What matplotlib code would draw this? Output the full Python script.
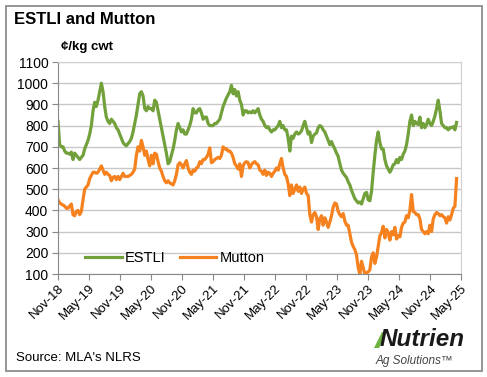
import matplotlib

matplotlib.use("Agg")

import matplotlib.pyplot as plt
import matplotlib.dates as mdates
import pandas as pd
from matplotlib.patches import Polygon, Rectangle

plt.rcParams["font.family"] = ["Liberation Sans", "DejaVu Sans"]

# weekly-ish readings, c/kg cwt, Nov-18 to early Apr-25
estli = [
    820, 710, 700, 700, 680, 670, 670, 665, 675, 640, 670, 660, 650, 640, 650, 660,
    690, 710, 730, 760, 800, 870, 910, 890, 920, 960, 1000, 960, 890, 840, 820, 810,
    830, 820, 810, 790, 780, 760, 740, 720, 710, 705, 715, 725, 740, 770, 810, 850,
    900, 950, 960, 940, 880, 870, 890, 880, 880, 870, 920, 910, 870, 830, 790, 750,
    710, 670, 620, 630, 660, 690, 730, 780, 810, 790, 770, 780, 760, 760, 780, 800,
    830, 880, 860, 860, 875, 880, 860, 830, 840, 840, 810, 800, 800, 800, 810, 810,
    820, 830, 860, 890, 910, 930, 945, 960, 990, 950, 970, 940, 960, 920, 900, 850,
    870, 870, 860, 865,
    860, 870, 860, 870, 880, 850, 830, 820, 800, 790, 795, 780, 770, 780, 780, 790,
    800, 820, 790, 800, 780, 780, 740, 680, 750, 740, 760, 770, 760, 765, 775, 800,
    820, 790, 760, 770, 720, 750, 760, 765, 790, 800, 795, 780, 770, 750, 730, 710,
    725, 705, 690, 670, 655, 620, 590, 575, 565, 555, 535, 520, 495, 475, 455, 445,
    435, 440, 430, 455, 480, 485, 450, 445, 490, 580, 660, 730, 770, 720, 690, 690,
    640, 610, 595, 580, 595, 615, 620, 640, 625, 650, 640, 665, 680, 710, 760, 820,
    850, 800, 820, 810, 805, 840, 790, 810, 790, 805, 830, 810, 800, 820, 845, 880,
    920, 870, 810, 800, 790, 790, 780, 790, 790, 795, 780, 815,
]
mutton = [
    450, 435, 430, 425, 420, 410, 410, 420, 430, 380, 375, 395, 400, 380, 395, 450,
    500, 510, 520, 550, 565, 580, 580, 575, 580, 595, 610, 590, 570, 580, 570, 565,
    540, 555, 560, 545, 560, 545, 560, 575, 560, 560, 560, 565, 570, 580, 595, 660,
    700, 680, 730, 700, 660, 680, 640, 610, 660, 620, 670, 665, 630, 600, 585, 560,
    540, 530, 540, 530, 525, 520, 540, 570, 615, 625, 615, 600, 620, 635, 600, 580,
    570, 590, 585, 600, 605, 630, 620, 640, 640, 650, 665, 695, 625, 630, 640, 645,
    650, 645, 660, 700, 690, 690, 680, 680, 670, 650, 620, 610, 595, 620, 560, 610,
    625, 630, 625, 600,
    615, 625, 630, 620, 615, 590, 585, 570, 590, 565, 580, 575, 560, 575, 585, 600,
    590, 620, 645, 600, 570, 560, 525, 470, 520, 480, 500, 520, 490, 510, 480, 500,
    510, 480, 470, 380, 345, 380, 390, 370, 310, 360, 375, 330, 365, 345, 320, 345,
    375, 415, 435, 430, 395, 380, 370, 385, 350, 330, 330, 290, 250, 230, 215, 190,
    130, 100, 160, 130, 100, 105, 110, 120, 180, 200, 150, 180, 230, 280, 295, 325,
    270, 310, 295, 260, 300, 285, 320, 265, 280, 275, 320, 340, 345, 375, 365, 400,
    475, 395, 390, 380, 380, 360, 310, 300, 290, 300, 290, 330, 300, 360, 380, 390,
    385, 375, 380, 370, 365, 340, 370, 355, 380, 410, 420, 550,
]
dates = pd.date_range("2018-11-01", "2025-04-05", periods=len(estli))

tick_dates = pd.date_range("2018-11-01", "2025-05-01", freq="6MS")

fig = plt.figure(figsize=(4.87, 3.77), dpi=100)
ax = fig.add_axes([58 / 487, 1 - 274 / 377, 403 / 487, 212 / 377])

ax.plot(dates, estli, color="#72A13C", lw=2.3, label="ESTLI")
ax.plot(dates[: len(mutton)], mutton, color="#F5821F", lw=2.3, label="Mutton")

ax.set_ylim(100, 1100)
ax.set_yticks(range(100, 1101, 100))
ax.set_xlim(tick_dates[0], tick_dates[-1])
ax.set_xticks(tick_dates)
ax.xaxis.set_major_formatter(mdates.DateFormatter("%b-%y"))
ax.grid(axis="y", color="#c8c8c8", lw=1)
ax.set_axisbelow(True)

for side in ["top", "right"]:
    ax.spines[side].set_color("#d0d0d0")
for side in ["left", "bottom"]:
    ax.spines[side].set_color("#888888")
ax.tick_params(axis="y", length=4, color="#888888", labelsize=10, pad=3)
ax.tick_params(axis="x", length=4, color="#888888", labelsize=9.5, pad=2)
for lbl in ax.get_xticklabels():
    lbl.set_rotation(45)
    lbl.set_ha("right")
    lbl.set_rotation_mode("anchor")

ax.legend(loc="lower left", bbox_to_anchor=(0.035, -0.02), ncol=2, frameon=False,
          fontsize=10.5, handlelength=2.5, handletextpad=0.2, columnspacing=1.0)

fig.text(14 / 487, 1 - 19 / 377, "ESTLI and Mutton", fontsize=12, fontweight="bold",
         va="center")
fig.text(61 / 487, 1 - 47 / 377, "¢/kg cwt", fontsize=9.5, fontweight="bold",
         va="center")
fig.text(16 / 487, 1 - 358 / 377, "Source: MLA's NLRS", fontsize=9.5, va="center")

# logo: green leaf stroke + wordmark
leaf = [(374, 348), (379, 348), (387, 332), (382, 332)]
fig.patches.append(Polygon([(x / 487, 1 - y / 377) for x, y in leaf], closed=True,
                           transform=fig.transFigure, facecolor="#6DB33F",
                           edgecolor="none"))
fig.text(380 / 487, 1 - 340 / 377, "Nutrien", fontsize=17.5, fontweight="bold",
         style="italic", color="#1a1a1a", va="center")
fig.text(376 / 487, 1 - 361 / 377, "Ag Solutions\u2122", fontsize=8.5,
         style="italic", color="#444444", va="center")

fig.patches.append(Rectangle((6 / 487, 1 - 371 / 377), 476 / 487, 365 / 377,
                             transform=fig.transFigure, fill=False,
                             edgecolor="#8c8c8c", lw=1.3))

fig.savefig("out.png", dpi=100)
